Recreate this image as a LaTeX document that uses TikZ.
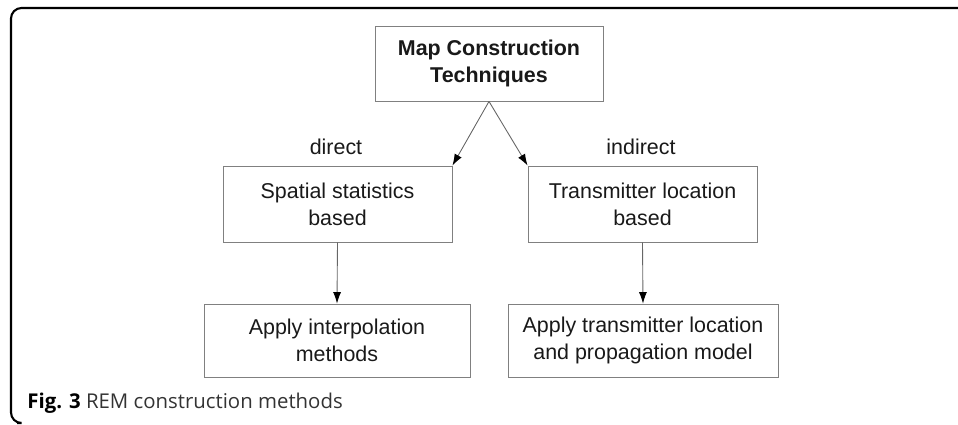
\documentclass[tikz,border=0pt]{standalone}
\usepackage{fontspec}
\setmainfont{Liberation Sans}
\newfontfamily\capfont{Open Sans}
\usetikzlibrary{arrows.meta}

\begin{document}
\begin{tikzpicture}[x=0.02cm,y=-0.02cm,
	methodbox/.style={draw=black!50,line width=0.5pt,align=center,inner sep=0pt,text=black!90,font=\fontsize{12.2}{15.4}\selectfont},
	branchlabel/.style={text=black!90,font=\fontsize{12.2}{15.4}\selectfont},
	flow/.style={-{Latex[length=2.3mm,width=1.6mm,color=black]},black!60,line width=0.5pt}]
		
		\useasboundingbox (0,0) rectangle (958,424);
		
		% frame
		\draw[line width=1.2pt,rounded corners=6] (958,8) -- (11,8) -- (11,423) -- (17,423);
		
		
		\node[methodbox,minimum width=4.56cm,minimum height=1.5cm] (map) at (489,63.5) {\textbf{Map Construction}\\\textbf{Techniques}};
		
		
		\node[methodbox,minimum width=4.58cm,minimum height=1.52cm] (spatial) at (337.5,204) {Spatial statistics\\based};
		\node[methodbox,minimum width=4.58cm,minimum height=1.52cm] (transmitter) at (642.5,204) {Transmitter location\\based};
		
		
		\node[methodbox,minimum width=5.32cm,minimum height=1.46cm] (interp) at (337,340.5) {Apply interpolation\\methods};
		\node[methodbox,minimum width=5.4cm,minimum height=1.46cm] (propag) at (643,340.5) {Apply transmitter location\\and propagation model};
		
		
		\node[branchlabel] (direct) at (336,147) {direct};
		\node[branchlabel] (indirect) at (641,147) {indirect};
		
		
		\draw[flow] (map.south) -- (spatial.north east);
		\draw[flow] (map.south) -- (transmitter.north west);
		\draw[flow] (spatial.south) -- (interp.north);
		\draw[flow] (transmitter.south) -- (propag.north);
		
		
		\node[anchor=base west,inner sep=0pt] (caption) at (27,408) {\capfont\fontsize{11.6}{13}\selectfont\textbf{Fig. 3} \textcolor{black!80}{REM construction methods}};
		
		
	\end{tikzpicture}
\end{document}
